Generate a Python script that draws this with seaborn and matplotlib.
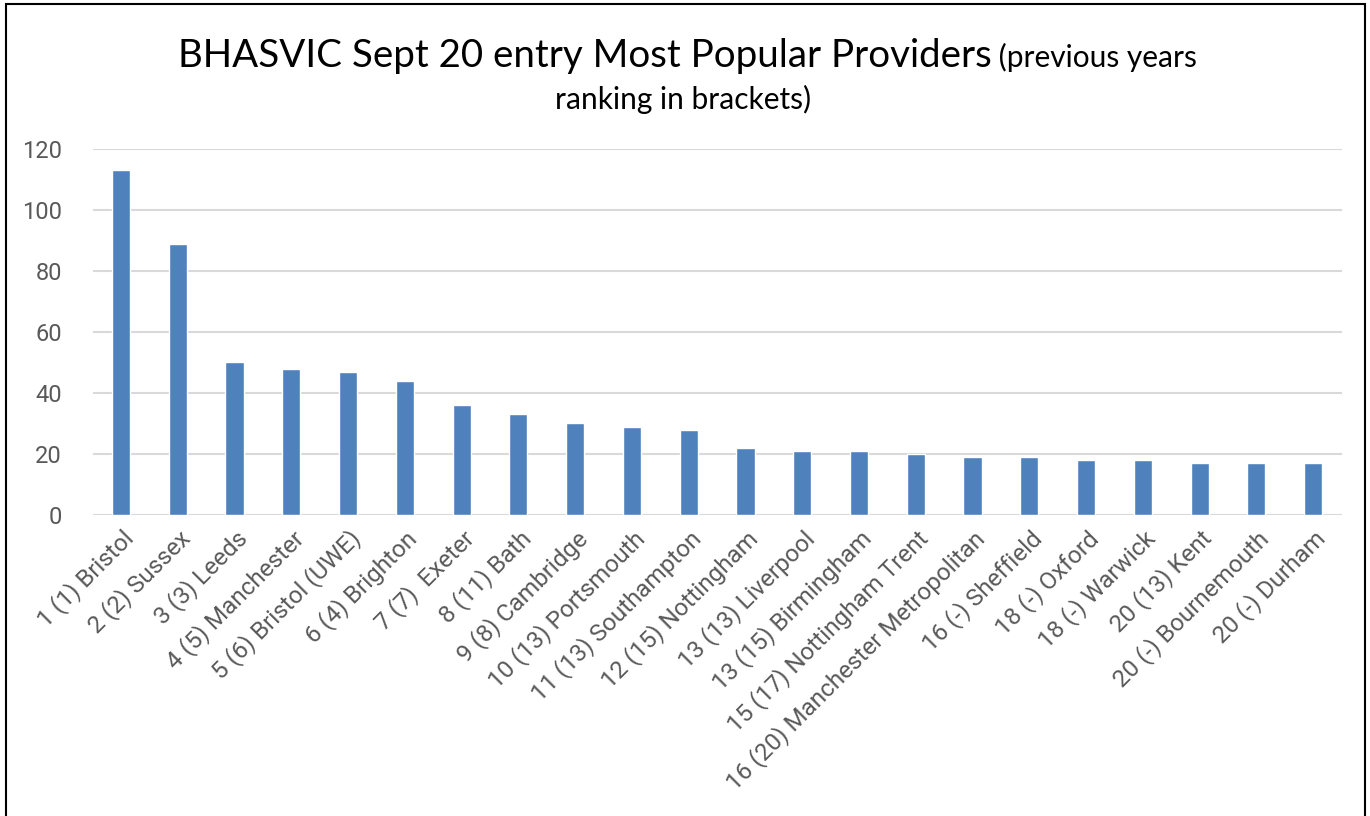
import matplotlib
matplotlib.use("Agg")
import matplotlib.pyplot as plt
import seaborn as sns
import pandas as pd
from matplotlib.patches import Rectangle

# values
providers = [
    "1 (1) Bristol", "2 (2) Sussex", "3 (3) Leeds", "4 (5) Manchester",
    "5 (6) Bristol (UWE)", "6 (4) Brighton", "7 (7)  Exeter", "8 (11) Bath",
    "9 (8) Cambridge", "10 (13) Portsmouth", "11 (13) Southampton",
    "12 (15) Nottingham", "13 (13) Liverpool", "13 (15) Birmingham",
    "15 (17) Nottingham Trent", "16 (20) Manchester Metropolitan",
    "16 (-) Sheffield", "18 (-) Oxford", "18 (-) Warwick", "20 (13) Kent",
    "20 (-) Bournemouth", "20 (-) Durham",
]
students = [113, 89, 50, 48, 47, 44, 36, 33, 30, 29, 28,
            22, 21, 21, 20, 19, 19, 18, 18, 17, 17, 17]
y_ticks = [0, 20, 40, 60, 80, 100, 120]

df = pd.DataFrame({"provider": providers, "students": students})

sns.set_style("white")
plt.rcParams["font.family"] = ["Roboto", "DejaVu Sans"]

fig = plt.figure(figsize=(13.7, 8.16), dpi=100)
ax = fig.add_axes([0.0676, 0.3689, 0.9116, 0.4485])

sns.barplot(data=df, x="provider", y="students", color="#4F81BD",
            saturation=1, width=0.32, ax=ax)

ax.set_ylim(0, 120)
ax.set_yticks(y_ticks)
ax.set_xlim(-0.5, len(providers) - 0.5)
ax.yaxis.grid(True, color="#D9D9D9", linewidth=1.5)
ax.set_axisbelow(True)
for s in ax.spines.values():
    s.set_visible(False)
ax.set_xlabel("")
ax.set_ylabel("")
ax.tick_params(axis="y", length=0, pad=22, labelsize=17, labelcolor="#595959")
ax.tick_params(axis="x", length=0, pad=8, labelsize=17.5, labelcolor="#595959")
ax.set_xticks(range(len(providers)))
ax.set_xticklabels(providers, rotation=45, ha="right", rotation_mode="anchor")

# title: big part + smaller bracket note, wrapped like the original
fig.canvas.draw()
renderer = fig.canvas.get_renderer()
t1 = fig.text(0, 0, "BHASVIC Sept 20 entry Most Popular Providers",
              fontsize=27.7, family="Lato", color="black", va="baseline")
t2 = fig.text(0, 0, " (previous years", fontsize=21.5, family="Lato",
              color="black", va="baseline")
w1 = t1.get_window_extent(renderer).width
w2 = t2.get_window_extent(renderer).width
W = fig.bbox.width
x0 = (687.5 - (w1 + w2) / 2) / W
base = 1 - 67 / 816
t1.set_position((x0, base))
t2.set_position((x0 + w1 / W, base))
fig.text(683 / W, 1 - 109 / 816, "ranking in brackets)", fontsize=21.5,
         family="Lato", color="black", ha="center", va="baseline")

# outer frame of the chart area
fig.patches.append(Rectangle((6 / 1370, -0.05), 1359 / 1370, 1.05 - 4 / 816,
                             transform=fig.transFigure, fill=False,
                             edgecolor="black", linewidth=1.5))

fig.savefig("out.png", dpi=100)
